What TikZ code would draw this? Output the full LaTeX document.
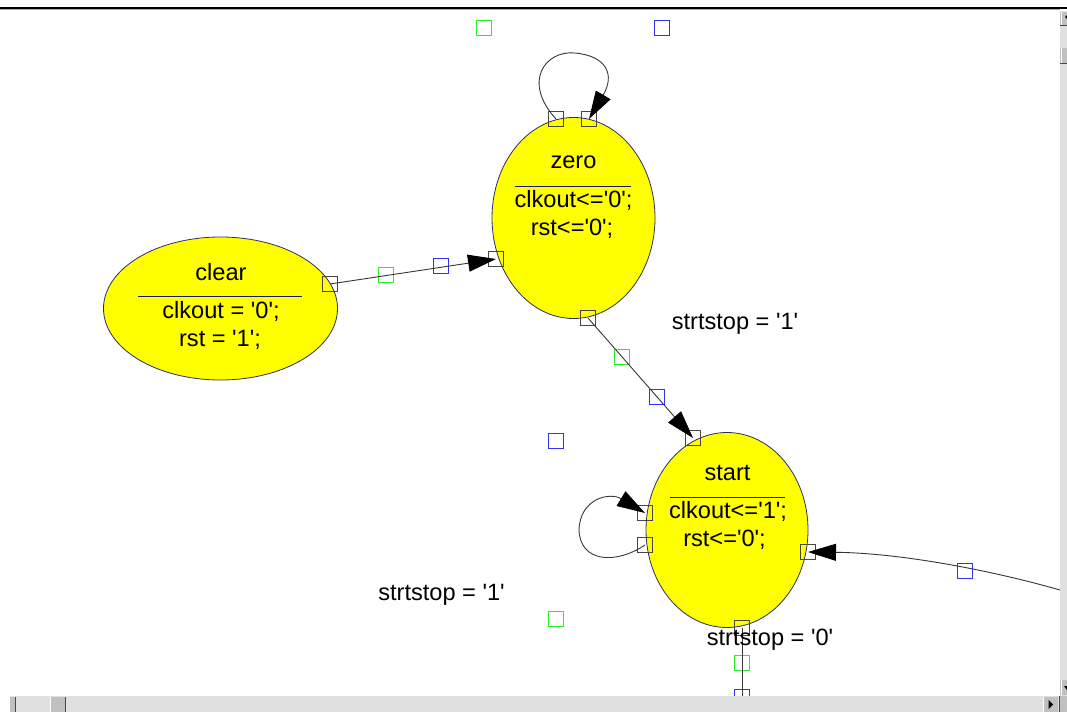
\documentclass[tikz,border=0pt]{standalone}
\usepackage{fontspec}
\setmainfont{Liberation Sans}[Ligatures=TeXOff]
\usetikzlibrary{shapes.geometric,arrows.meta}

\definecolor{stateyellow}{RGB}{255,255,0}
\definecolor{stateedge}{RGB}{45,45,105}
\definecolor{portgray}{RGB}{70,70,70}
\definecolor{portgreen}{RGB}{40,240,40}
\definecolor{portblue}{RGB}{50,50,245}
\definecolor{wireline}{RGB}{55,55,55}
\definecolor{divider}{RGB}{25,25,120}
\definecolor{barbg}{RGB}{224,224,224}
\definecolor{btnface}{RGB}{192,192,192}
\definecolor{btnshade}{RGB}{70,70,70}

\begin{document}
\begin{tikzpicture}[x=1pt,y=-1pt,
  state/.style={ellipse, draw=stateedge, line width=0.8pt, fill=stateyellow, inner sep=0pt},
  port/.style={rectangle, draw=portgray, line width=1.3pt, minimum size=15pt, inner sep=0pt},
  gport/.style={port, draw=portgreen},
  bport/.style={port, draw=portblue},
  wire/.style={draw=wireline, line width=0.9pt},
  arrowwire/.style={wire, -{Triangle[length=28pt,width=17pt,color=black]}},
  txt/.style={font=\fontsize{23.6}{27}\selectfont, anchor=base, inner sep=0pt},
  rulebar/.style={draw=divider, line width=1pt},
]
\useasboundingbox (0,0) rectangle (1067,712);
\fill[white] (0,0) rectangle (1067,712);

% states
\node[state, minimum width=234pt, minimum height=143pt] (clear) at (220.5,308.5) {};
\node[state, minimum width=163pt, minimum height=201pt] (zero)  at (573.5,218) {};
\node[state, minimum width=162pt, minimum height=195pt] (start) at (727,530) {};

% state texts
\node[txt] (clearname) at (221,280) {clear};
\draw[rulebar] (138,296) -- (302,296);
\node[txt] (clearact1) at (221,318) {clkout = '0';};
\node[txt] (clearact2) at (220,346) {rst = '1';};

\node[txt] (zeroname) at (573.5,168) {zero};
\draw[rulebar] (515,186) -- (631,186);
\node[txt] (zeroact1) at (573.5,207) {clkout<='0';};
\node[txt] (zeroact2) at (572,235) {rst<='0';};

\node[txt] (startname) at (727.5,480) {start};
\draw[rulebar] (670,497) -- (785,497);
\node[txt] (startact1) at (728,518) {clkout<='1';};
\node[txt] (startact2) at (724.5,546) {rst<='0';};

% connection ports on the states
\node[port] (zl) at (556,119) {};
\node[port] (zr) at (589,119) {};
\node[port] (cz) at (330,284) {};
\node[port] (zin) at (496,259) {};
\node[port] (zb) at (588,318) {};
\node[port] (st) at (693,438) {};
\node[port] (sl1) at (645,513) {};
\node[port] (sl2) at (645,545) {};
\node[port] (sr) at (808,552) {};
\node[port] (sbot) at (742,628) {};

% handle markers
\node[gport] (g0) at (484,28) {};
\node[bport] (b0) at (662,28) {};
\node[gport] (gA) at (386,275) {};
\node[bport] (bA) at (441,266) {};
\node[gport] (gB) at (622,357) {};
\node[bport] (bB) at (657,397) {};
\node[bport] (b1) at (556,441) {};
\node[gport] (g1) at (556,619) {};
\node[bport] (bC) at (965,571) {};
\node[gport] (gC) at (742,663) {};
\node[bport] (bD) at (742,697) {};

\coordinate (rightend) at (1060,590);
\coordinate (bottomend) at (742,712);

% transitions
\draw[arrowwire] (zl.center) .. controls (522,82) and (545,50) .. (575,53)
                 .. controls (607,56) and (615,75) .. (zr.center);
\draw[arrowwire] (cz.center) -- (zin.center);
\draw[arrowwire] (zb.center) -- (st.center);
\draw[arrowwire] (sl2.center) .. controls (615,565) and (580,562) .. (579,530)
                 .. controls (580,498) and (610,492) .. (sl1.center);
\draw[arrowwire] (rightend) .. controls (990,570) and (900,553) .. (sr.center);
\draw[wire] (sbot.center) -- (bottomend);

% transition labels
\node[txt] (cond1) at (735,329) {strtstop = '1'};
\node[txt] (cond2) at (441.5,600) {strtstop = '1'};
\node[txt] (cond3) at (770,645) {strtstop = '0'};

% window frame: top edge
\draw[line width=2pt] (0,7.5) -- (1067,7.5);
\draw[black!35, line width=0.6pt] (0,9.3) -- (1060,9.3);

% vertical scroll bar
\fill[barbg] (1060,11) rectangle (1067,696);
\fill[btnface] (1060,12) rectangle (1067,26);
\draw[white, line width=1pt] (1061,12) -- (1061,26);
\draw[btnshade, line width=1pt] (1060,25.5) -- (1067,25.5);
\fill[black] (1065,17) -- (1067,15) -- (1067,19) -- cycle;
\fill[btnface] (1060,48) rectangle (1067,64);
\draw[white, line width=1pt] (1061,48) -- (1061,64);
\draw[btnshade, line width=1pt] (1060,63.5) -- (1067,63.5);
\fill[btnface] (1060,680) rectangle (1067,695);
\draw[white, line width=1pt] (1061,680) -- (1061,695);
\fill[black] (1064,686) -- (1067,686) -- (1067,690) -- cycle;

% horizontal scroll bar
\fill[barbg] (10,696) rectangle (1060,712);
\fill[btnface] (10,697) rectangle (15,712);
\draw[btnshade, line width=1pt] (15,697) -- (15,712);
\fill[btnface] (50,697) rectangle (65,712);
\draw[white, line width=1pt] (50.5,697) -- (50.5,712);
\draw[btnshade, line width=1pt] (65,697) -- (65,712);
\fill[btnface] (1043,697) rectangle (1058,712);
\draw[white, line width=1pt] (1043.5,697) -- (1043.5,712);
\fill[black] (1053,704.5) -- (1048.5,700) -- (1048.5,709) -- cycle;
\draw[btnshade, line width=1.2pt] (1059.5,696) -- (1059.5,712);
\fill[btnface] (1060.2,696) rectangle (1067,712);
\end{tikzpicture}
\end{document}
